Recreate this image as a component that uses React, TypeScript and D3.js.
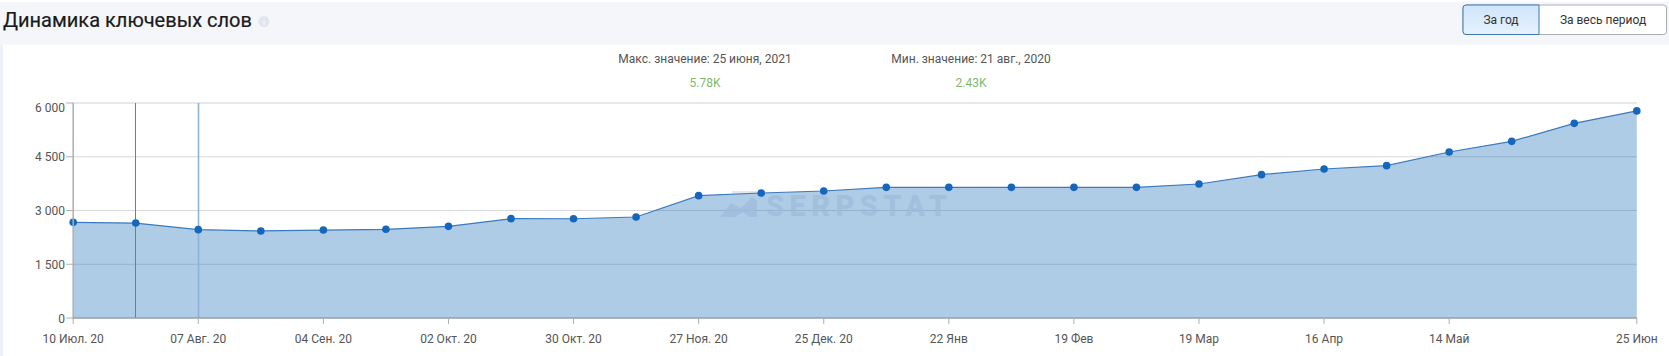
import React from "react";
import * as d3 from "d3";

const W = 1669;
const H = 356;

const values = [2670, 2650, 2465, 2430, 2455, 2475, 2558, 2772, 2770, 2818, 3414, 3488, 3544, 3646, 3646, 3646, 3646, 3646, 3740, 4000, 4158, 4251, 4632, 4930, 5432, 5780];
const tickIndexes = [0, 2, 4, 6, 8, 10, 12, 14, 16, 18, 20, 22, 25];
const tickLabels = ["10 Июл. 20", "07 Авг. 20", "04 Сен. 20", "02 Окт. 20", "30 Окт. 20", "27 Ноя. 20", "25 Дек. 20", "22 Янв", "19 Фев", "19 Мар", "16 Апр", "14 Май", "25 Июн"];
const yTicks = [0, 1500, 3000, 4500, 6000];
const markedIndexes = [1, 2];
const markedColors = ["#4f84c0", "#8fb2d8"];
const markedWidths = [1, 1.6];

const FONT = "Roboto, sans-serif";

export default function App() {
  const x = d3.scaleLinear().domain([0, values.length - 1]).range([73.2, 1636.8]);
  const y = d3.scaleLinear().domain([0, 6000]).range([318, 103]);
  const idx = values.map((_, i) => i);
  const area = d3.area<number>().x((i) => x(i)).y0(y(0)).y1((i) => y(values[i]));
  const line = d3.line<number>().x((i) => x(i)).y((i) => y(values[i]));
  const fmt = (v: number) => d3.format(",")(v).replace(",", " ");

  return (
    <svg width={W} height={H} style={{ position: "absolute", left: 0, top: 0, display: "block" }}>
      <defs>
        <linearGradient id="active" x1="0" y1="0" x2="0" y2="1">
          <stop offset="0" stopColor="#cfe5fb" />
          <stop offset="1" stopColor="#e6f2fe" />
        </linearGradient>
      </defs>
      <rect x={0} y={0} width={W} height={H} fill="#ffffff" />
      <rect x={0} y={2} width={W} height={42.5} fill="#f4f6fa" />
      <rect x={0} y={44.5} width={3} height={H - 44.5} fill="#eef0f9" />

      <text x={3} y={27} fontFamily={FONT} fontSize={20} stroke="#1a1a1a" strokeWidth={0.2} fill="#1a1a1a">Динамика ключевых слов</text>
      <circle cx={264} cy={21.5} r={5.5} fill="#e2e5ee" />
      <text x={264} y={24.5} textAnchor="middle" fontFamily={FONT} fontSize={8} fontWeight={700} fill="#f4f6fa">i</text>

      <rect x={1463} y={5} width={203.5} height={29.5} rx={3} fill="#ffffff" stroke="#a9adb3" />
      <path d="M1539 5H1466a3 3 0 0 0-3 3V31.5a3 3 0 0 0 3 3H1539Z" fill="url(#active)" stroke="#3f78b5" />
      <text x={1501} y={24} textAnchor="middle" fontFamily={FONT} fontSize={12} fill="#333">За год</text>
      <text x={1603} y={24} textAnchor="middle" fontFamily={FONT} fontSize={12} fill="#333">За весь период</text>

      <text x={705} y={63} textAnchor="middle" fontFamily={FONT} fontSize={12} fill="#555">Макс. значение: 25 июня, 2021</text>
      <text x={705} y={87} textAnchor="middle" fontFamily={FONT} fontSize={12} fill="#7fb96e">5.78K</text>
      <text x={971} y={63} textAnchor="middle" fontFamily={FONT} fontSize={12} fill="#555">Мин. значение: 21 авг., 2020</text>
      <text x={971} y={87} textAnchor="middle" fontFamily={FONT} fontSize={12} fill="#7fb96e">2.43K</text>

      {yTicks.filter((t) => t > 0).map((t) => (
        <line key={t} x1={x(0)} x2={x(25)} y1={y(t)} y2={y(t)} stroke={t === 6000 ? "#e8e8e8" : "#d8d8d8"} strokeWidth={t === 6000 ? 2 : 1} />
      ))}

      <path d={area(idx) ?? ""} fill="#0c63b4" fillOpacity={0.33} />

      <g opacity={0.7}>
        <rect x={732} y={191} width={25} height={2.5} fill="#d9dde6" />
        <path d="M720 217L731 203L741 208L752 197L757 201V217H750L743 212L735 217Z" fill="#9dbcdb" />
        <text x={766} y={215.5} fontFamily={FONT} fontSize={29} fontWeight={900} textLength={181} lengthAdjust="spacing" fill="#9dbcdb">SERPSTAT</text>
      </g>

      {markedIndexes.map((i, k) => (
        <line key={i} x1={Math.floor(x(i)) + 0.5} x2={Math.floor(x(i)) + 0.5} y1={y(6000)} y2={y(0)} stroke={markedColors[k]} strokeWidth={markedWidths[k]} />
      ))}

      <path d={line(idx) ?? ""} fill="none" stroke="#3a7abd" strokeWidth={1.2} />
      {idx.map((i) => (
        <circle key={i} cx={x(i)} cy={y(values[i])} r={3.8} fill="#1467bd" />
      ))}

      <line x1={x(0)} x2={x(0)} y1={y(6000)} y2={y(0) + 1} stroke="#aeaeae" strokeWidth={1.5} />
      <line x1={x(0)} x2={x(25)} y1={y(0)} y2={y(0)} stroke="#969fa8" strokeWidth={1.6} />
      {yTicks.map((t) => (
        <g key={t}>
          <line x1={x(0) - 7} x2={x(0)} y1={y(t)} y2={y(t)} stroke="#aeaeae" />
          <text x={65} y={t === 6000 ? 111.5 : y(t) + 4.5} textAnchor="end" fontFamily={FONT} fontSize={12} fill="#555">{fmt(t)}</text>
        </g>
      ))}
      {tickIndexes.map((i, k) => (
        <g key={i}>
          <line x1={x(i)} x2={x(i)} y1={y(0)} y2={y(0) + 6} stroke="#aeaeae" />
          <text x={x(i)} y={343} textAnchor="middle" fontFamily={FONT} fontSize={12} fill="#555">{tickLabels[k]}</text>
        </g>
      ))}
    </svg>
  );
}
